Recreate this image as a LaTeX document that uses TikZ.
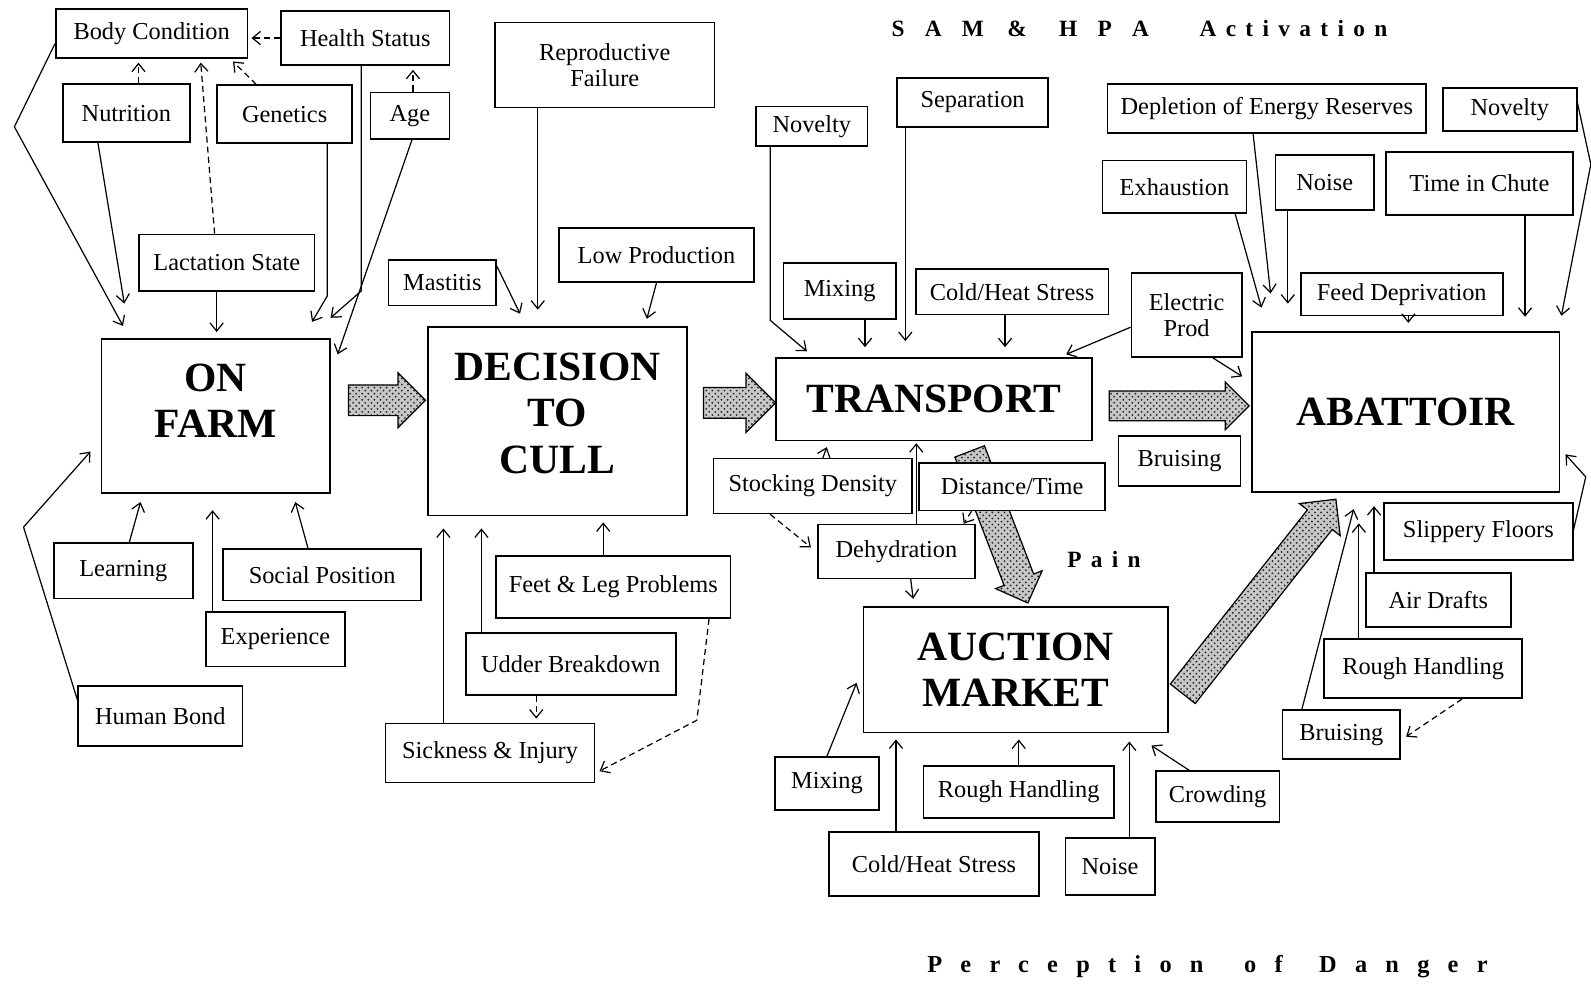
\documentclass[tikz,border=0pt]{standalone}
\usepackage{fontspec}
\setmainfont{Liberation Serif}
\newfontfamily\spacedfont[LetterSpace=40]{Liberation Serif}
\newfontfamily\widefont[LetterSpace=75]{Liberation Serif}
\usetikzlibrary{shapes,arrows,positioning,arrows.meta,patterns}
\tikzset{box/.style={rectangle, draw, line width=0.8pt, fill=white, inner sep=1pt, align=center, font=\fontsize{12}{13}\selectfont}}
\tikzset{bigbox/.style={box, font=\fontsize{20.5}{23}\selectfont\bfseries}}
\tikzset{line/.style={draw, line width=0.6pt, -{Straight Barb[length=4pt,width=6.5pt]}}}
\tikzset{dline/.style={line, dash pattern=on 3pt off 2pt}}
\tikzset{fatarrow/.style={single arrow, draw, line width=0.6pt, inner xsep=0pt, inner ysep=7.25pt, preaction={fill=black!22}, pattern=crosshatch dots, pattern color=black!85}}

\begin{document}
\begin{tikzpicture}[x=0.5pt, y=-0.5pt]
\useasboundingbox (0,0) rectangle (1568,973);
        % on farm
        \node[box, minimum width=94.5pt, minimum height=24pt] (bodycond) at (149.5,33) {Body Condition};
        \node[box, minimum width=83pt, minimum height=26.5pt] (health) at (360,37.5) {Health Status};
        \node[box, minimum width=62.5pt, minimum height=28.5pt] (nutrition) at (124.5,111.5) {Nutrition};
        \node[box, minimum width=66.5pt, minimum height=28.5pt] (genetics) at (280.5,112.5) {Genetics};
        \node[box, minimum width=39pt, minimum height=23pt] (age) at (404,114) {Age};
        \node[box, minimum width=86.5pt, minimum height=28pt] (lactation) at (223.5,259) {Lactation State};
        \node[bigbox, minimum width=112.5pt, minimum height=76pt] (onfarm) at (212.5,410) {ON\\FARM\\[-8pt]\mbox{}};
        \node[box, minimum width=68.5pt, minimum height=27.5pt] (learning) at (121.5,562.5) {Learning};
        \node[box, minimum width=97.5pt, minimum height=25.5pt] (social) at (317.5,566.5) {Social Position};
        \node[box, minimum width=68.5pt, minimum height=27pt] (experience) at (271.5,630) {Experience};
        \node[box, minimum width=81pt, minimum height=29.5pt] (humanbond) at (158,705.5) {Human Bond};
        % decision to cull
        \node[box, minimum width=108pt, minimum height=42pt] (repro) at (596,64) {Reproductive\\Failure};
        \node[box, minimum width=53pt, minimum height=22.5pt] (mastitis) at (436,278.5) {Mastitis};
        \node[box, minimum width=96pt, minimum height=26.5pt] (lowprod) at (647,251.5) {Low Production};
        \node[bigbox, minimum width=127.5pt, minimum height=93pt] (decision) at (549.5,415) {DECISION\\TO\\CULL\\[-15pt]\mbox{}};
        \node[box, minimum width=115.5pt, minimum height=30.5pt] (feetleg) at (604.5,578.5) {Feet \& Leg Problems};
        \node[box, minimum width=103.5pt, minimum height=30.5pt] (udder) at (562.5,654.5) {Udder Breakdown};
        \node[box, minimum width=103pt, minimum height=29pt] (sickness) at (483,742) {Sickness \& Injury};
        \node[fatarrow, minimum height=38pt, single arrow head extend=6pt] (fa1) at ([shift={(48,-15.5)}]onfarm.east) {};
        \node[fatarrow, minimum height=35.5pt, single arrow head extend=7pt] (fa2) at ([shift={(43.5,-18)}]decision.east) {};
        % transport
        \node[box, minimum width=55pt, minimum height=19.5pt] (novelty1) at (800,124.5) {Novelty};
        \node[box, minimum width=74.5pt, minimum height=24pt] (separation) at (958.5,101) {Separation};
        \node[box, minimum width=55.5pt, minimum height=27.5pt] (mixing1) at (827.5,287) {Mixing};
        \node[box, minimum width=95pt, minimum height=22.5pt] (coldheat1) at (997.5,287.5) {Cold/Heat Stress};
        \node[box, minimum width=54.5pt, minimum height=41.5pt] (electric) at (1169.5,310.5) {Electric\\Prod};
        \node[bigbox, minimum width=155.5pt, minimum height=40.5pt] (transport) at (920.5,393.5) {TRANSPORT};
        \node[fatarrow, minimum height=69pt, inner ysep=7pt, single arrow head extend=4.5pt] (fa3) at ([shift={(78,6.5)}]transport.east) {};
        \node[fatarrow, minimum height=80pt, inner ysep=7.5pt, single arrow head extend=4.5pt, rotate=-69] (fa4) at ([shift={(61,77.5)}]transport.south) {};
        \node[box, minimum width=98pt, minimum height=27pt] (stockdens) at (801,479) {Stocking Density};
        \node[box, minimum width=91.5pt, minimum height=23.5pt] (disttime) at (997.5,479.5) {Distance/Time};
        \node[box, minimum width=77.5pt, minimum height=26.5pt] (dehydration) at (883.5,543.5) {Dehydration};
        \node[box, minimum width=60pt, minimum height=24.5pt] (bruising1) at (1162.5,454.5) {Bruising};
        % auction market
        \node[bigbox, minimum width=150pt, minimum height=62pt] (auction) at (1001,660) {AUCTION\\MARKET};
        \node[fatarrow, minimum height=122pt, inner ysep=7.5pt, single arrow head extend=5pt, rotate=51.8] (fa5) at ([shift={(84.5,-66)}]auction.east) {};
        \node[box, minimum width=51pt, minimum height=26pt] (mixing2) at (815,772) {Mixing};
        \node[box, minimum width=94pt, minimum height=25.5pt] (roughh2) at (1004,780.5) {Rough Handling};
        \node[box, minimum width=61pt, minimum height=25pt] (crowding) at (1200,785) {Crowding};
        \node[box, minimum width=103.5pt, minimum height=31.5pt] (coldheat2) at (920.5,851.5) {Cold/Heat Stress};
        \node[box, minimum width=44pt, minimum height=28pt] (noise2) at (1094,854) {Noise};
        % abattoir
        \node[box, minimum width=157pt, minimum height=24pt] (depletion) at (1248.5,107) {Depletion of Energy Reserves};
        \node[box, minimum width=66pt, minimum height=21pt] (novelty2) at (1488,108) {Novelty};
        \node[box, minimum width=71pt, minimum height=26pt] (exhaustion) at (1157.5,184) {Exhaustion};
        \node[box, minimum width=48.5pt, minimum height=27pt] (noise1) at (1305.5,180) {Noise};
        \node[box, minimum width=92pt, minimum height=31pt] (timechute) at (1458,181) {Time in Chute};
        \node[box, minimum width=99.5pt, minimum height=21pt] (feeddep) at (1381.5,290) {Feed Deprivation};
        \node[bigbox, minimum width=151.5pt, minimum height=79pt] (abattoir) at (1385.5,406) {ABATTOIR};
        \node[box, minimum width=93pt, minimum height=28pt] (slippery) at (1457,524) {Slippery Floors};
        \node[box, minimum width=71.5pt, minimum height=26.5pt] (airdrafts) at (1417.5,591.5) {Air Drafts};
        \node[box, minimum width=97.5pt, minimum height=29pt] (roughh3) at (1402.5,659) {Rough Handling};
        \node[box, minimum width=58pt, minimum height=24pt] (bruising2) at (1322,724) {Bruising};
        % titles
        \node[font=\spacedfont\bfseries\fontsize{11.5}{13}\selectfont] (sam) at (1123,28) {S\hspace{2.5pt} A\hspace{2.5pt} M\hspace{4pt} \&\hspace{8.5pt} H\hspace{2.5pt} P\hspace{2.5pt} A\hspace{17.5pt} Activation};
        \node[font=\spacedfont\bfseries\fontsize{11.5}{13}\selectfont] (pain) at (1088,551) {Pain};
        \node[font=\widefont\bfseries\fontsize{12}{14}\selectfont] (danger) at (1190,953) {Perception\hspace{8pt} of\hspace{6pt} Danger};
        % connectors on farm
        \path[dline, shorten >=1.5pt] (health.west) -- (health.west -| bodycond.east);
        \path[dline, shorten >=2pt] ([xshift=6pt]nutrition.north) -- ([xshift=6pt]nutrition.north |- bodycond.south);
        \path[dline, shorten >=2pt] ([xshift=-6pt]lactation.north) -- ([xshift=24pt]bodycond.south);
        \path[dline, shorten >=2pt] ([xshift=-14pt]genetics.north) -- ([xshift=-9pt]bodycond.south east);
        \path[dline, shorten >=2pt] ([xshift=1.5pt]age.north) -- ([xshift=1.5pt]age.north |- health.south);
        \path[line] ([yshift=-5pt]bodycond.west) -- ++(-40,82) -- ([shift={(22,-12)}]onfarm.north west);
        \path[line] ([xshift=-14pt]nutrition.south) -- ([shift={(-90,-34)}]onfarm.north);
        \path[line, shorten >=3pt] ([xshift=-5pt]lactation.south) -- ([xshift=-5pt]lactation.south |- onfarm.north);
        \path[line] ([xshift=21pt]genetics.south) -- ++(0,150) -- ([shift={(95,-16)}]onfarm.north);
        \path[line] ([xshift=-2pt]health.south) -- ++(0,222) -- ([shift={(0,-20)}]onfarm.north east);
        \path[line] ([xshift=1pt]age.south) -- ([shift={(7,16)}]onfarm.north east);
        \path[line] ([xshift=3pt]learning.north) -- ([shift={(-74,8)}]onfarm.south);
        \path[line, shorten >=8pt] ([xshift=-31pt]experience.north) -- ([xshift=-31pt]experience.north |- onfarm.south);
        \path[line] ([xshift=-7pt]social.north) -- ([shift={(78.5,8)}]onfarm.south);
        \path[line] ([yshift=8pt]humanbond.west) -- ++(-53,-170) -- ([shift={(-10,35)}]onfarm.west);
        % connectors decision
        \path[line, shorten >=8pt] ([xshift=-33pt]repro.south) -- ([xshift=-33pt]repro.south |- decision.north);
        \path[line] ([yshift=8pt]mastitis.east) -- ([shift={(-37,-12)}]decision.north);
        \path[line] (lowprod.south) -- ([shift={(88,-7)}]decision.north);
        \path[line, shorten >=3pt] ([xshift=-5pt]feetleg.north) -- ([xshift=-5pt]feetleg.north |- decision.south);
        \path[line, shorten >=6pt] ([xshift=-44pt]udder.north) -- ([xshift=-44pt]udder.north |- decision.south);
        \path[line, shorten >=6pt] ([xshift=-23pt]sickness.north) -- ([xshift=-23pt]sickness.north |- decision.south);
        \path[dline, shorten >=2pt] ([xshift=-17pt]udder.south) -- ([xshift=-17pt]udder.south |- sickness.north);
        \path[dline] ([xshift=-11pt]feetleg.south east) -- ++(-12,100) -- ([shift={(4,18)}]sickness.east);
        % connectors transport
        \path[line] ([xshift=7.5pt]novelty1.south west) -- ++(0,171) -- ([shift={(31,-6)}]transport.north west);
        \path[line, shorten >=5pt] ([xshift=12.5pt]mixing1.south) -- ([xshift=12.5pt]mixing1.south |- transport.north);
        \path[line, shorten >=8pt] ([xshift=4.5pt]separation.south west) -- ([xshift=4.5pt]separation.south west |- transport.north);
        \path[line, shorten >=5pt] ([xshift=-3.5pt]coldheat1.south) -- ([xshift=-3.5pt]coldheat1.south |- transport.north);
        \path[line] ([yshift=-6pt]electric.west) -- ([shift={(-26,-3)}]transport.north east);
        \path[line] ([xshift=13pt]electric.south) -- ([shift={(-9,-35)}]abattoir.west);
        \path[line, shorten >=1pt] ([xshift=5pt]stockdens.north) -- ([shift={(-105,4)}]transport.south);
        \path[line, shorten >=1pt] ([xshift=9.75pt]dehydration.north) -- ([xshift=9.75pt]dehydration.north |- transport.south);
        \path[dline] ([xshift=-20pt]disttime.south) -- ([xshift=-6pt]dehydration.north east);
        \path[dline] ([xshift=-21pt]stockdens.south) -- ([shift={(-6,-4)}]dehydration.west);
        \path[line] ([xshift=7pt]dehydration.south) -- ([shift={(-101,-7)}]auction.north);
        % connectors auction
        \path[line] (mixing2.north) -- ([shift={(-6,13)}]auction.west);
        \path[line, shorten >=3pt] ([xshift=-18.75pt]coldheat2.north) -- ([xshift=-18.75pt]coldheat2.north |- auction.south);
        \path[line, shorten >=3pt] (roughh2.north) -- (roughh2.north |- auction.south);
        \path[line, shorten >=4pt] ([xshift=9.5pt]noise2.north) -- ([xshift=9.5pt]noise2.north |- auction.south);
        \path[line] ([xshift=-14pt]crowding.north) -- ([shift={(-17,12)}]auction.south east);
        % connectors abattoir
        \path[line] ([xshift=-6pt]exhaustion.south east) -- ([shift={(10,-23)}]abattoir.north west);
        \path[line] ([xshift=-6.75pt]depletion.south) -- ([shift={(19,-37)}]abattoir.north west);
        \path[line, shorten >=13.5pt] ([xshift=6.5pt]noise1.south west) -- ([xshift=6.5pt]noise1.south west |- abattoir.north);
        \path[line, shorten >=4pt] ([xshift=3.25pt]feeddep.south) -- ([xshift=3.25pt]feeddep.south |- abattoir.north);
        \path[line, shorten >=7pt] ([xshift=22.5pt]timechute.south) -- ([xshift=22.5pt]timechute.south |- abattoir.north);
        \path[line] ([yshift=3pt]novelty2.east) -- ++(13,60) -- ([shift={(1,-15)}]abattoir.north east);
        \path[line] ([yshift=1pt]slippery.east) -- ++(12,-52) -- ([shift={(5,-38)}]abattoir.south east);
        \path[line, shorten >=6.5pt] ([xshift=4.5pt]airdrafts.north west) -- ([xshift=4.5pt]airdrafts.north west |- abattoir.south);
        \path[line, shorten >=15pt] ([xshift=17.5pt]roughh3.north west) -- ([xshift=17.5pt]roughh3.north west |- abattoir.south);
        \path[line] ([xshift=-19.5pt]bruising2.north) -- ([shift={(-51.5,16)}]abattoir.south);
        \path[dline] ([xshift=19.25pt]roughh3.south) -- ([shift={(5,2)}]bruising2.east);
\end{tikzpicture}
\end{document}
